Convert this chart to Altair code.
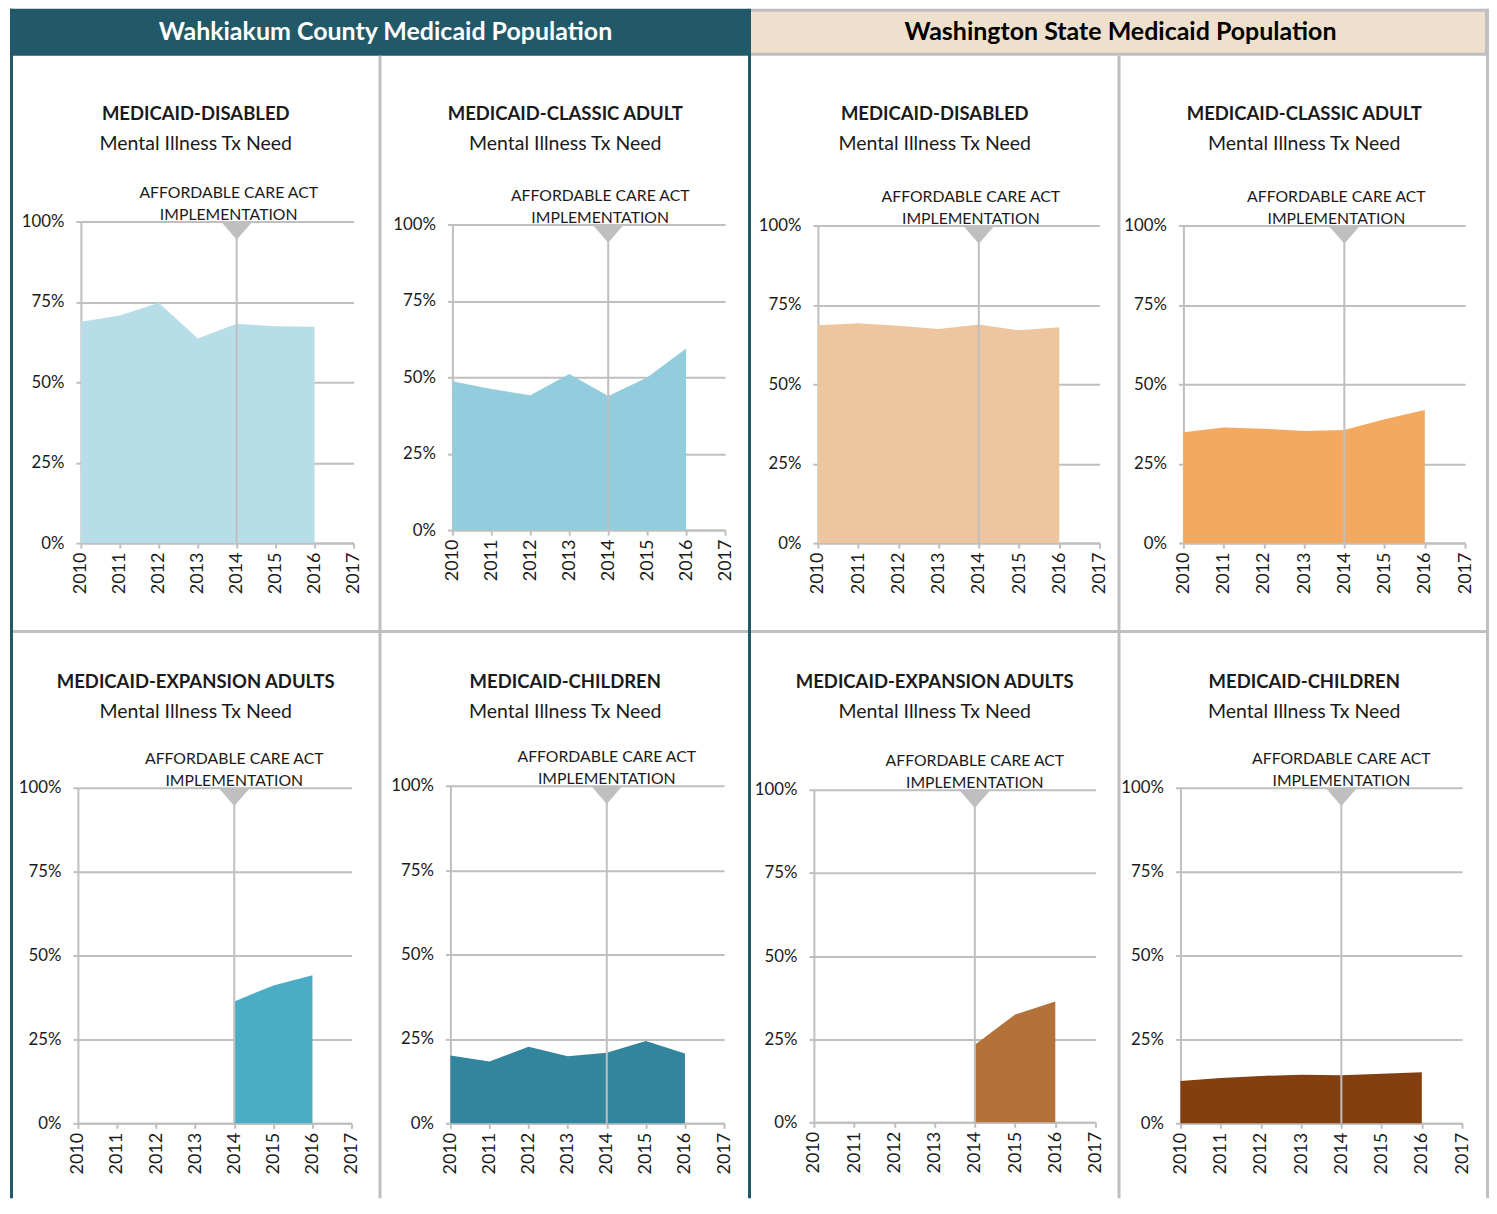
import altair as alt
import pandas as pd

# ---------------- data ----------------
years = [2010, 2011, 2012, 2013, 2014, 2015, 2016]
expansion_years = [2014, 2015, 2016]
axis_years = [2010, 2011, 2012, 2013, 2014, 2015, 2016, 2017]
pct_ticks = [0, 0.25, 0.5, 0.75, 1.0]
aca_year = 2014

wk_disabled = [0.688, 0.708, 0.747, 0.636, 0.682, 0.674, 0.673]
wk_classic = [0.487, 0.462, 0.441, 0.511, 0.439, 0.499, 0.594]
wa_disabled = [0.686, 0.692, 0.684, 0.674, 0.688, 0.670, 0.680]
wa_classic = [0.349, 0.364, 0.360, 0.353, 0.356, 0.390, 0.419]
wk_expansion = [0.363, 0.411, 0.441]
wk_children = [0.201, 0.183, 0.227, 0.199, 0.209, 0.244, 0.207]
wa_expansion = [0.233, 0.324, 0.363]
wa_children = [0.126, 0.135, 0.141, 0.145, 0.143, 0.148, 0.152]

panel_titles = [
    "MEDICAID-DISABLED", "MEDICAID-CLASSIC ADULT", "MEDICAID-DISABLED", "MEDICAID-CLASSIC ADULT",
    "MEDICAID-EXPANSION ADULTS", "MEDICAID-CHILDREN", "MEDICAID-EXPANSION ADULTS", "MEDICAID-CHILDREN",
]
subtitle = "Mental Illness Tx Need"
aca_label = ["AFFORDABLE CARE ACT", "IMPLEMENTATION"]
header_county = "Wahkiakum County  Medicaid Population"
header_state = "Washington State Medicaid Population"

# ---------------- style ----------------
FONT = "Lato"
GRID = "#bfbfbf"
TEAL = "#215968"
BEIGE = "#eee0cd"
TXT = "#1a1a1a"
colors = ["#b7dde8", "#93cddd", "#edc6a0", "#f4a960",
          "#4bacc6", "#31859c", "#b3723a", "#843f11"]

ONE = pd.DataFrame({"k": [0]})
CELL_W = 370
TOP_H = 623
BOT_H = 568


def rect(x0, x1, y0, y1, color):
    return alt.Chart(ONE).mark_rect(color=color, opacity=1, strokeWidth=0).encode(
        x=alt.value(x0), x2=alt.value(x1), y=alt.value(y0), y2=alt.value(y1))


def label(text, x, y, size, weight="normal", color=TXT, align="center"):
    return alt.Chart(ONE).mark_text(
        text=text, font=FONT, fontSize=size, fontWeight=weight, color=color,
        align=align, baseline="middle").encode(x=alt.value(x), y=alt.value(y))


def panel(idx, yrs, vals, cell_h, xr, yr, title_y, ann_dx, under=(), over=()):
    data = pd.DataFrame({"year": yrs, "share": vals})
    xs = alt.Scale(domain=[2010, 2017], range=xr, nice=False, zero=False)
    ys = alt.Scale(domain=[0, 1], range=yr, nice=False)
    xaxis = alt.Axis(values=axis_years, format="d", labelAngle=270, grid=False,
                     offset=yr[0] - cell_h, domainColor=GRID, domainWidth=2,
                     tickColor=GRID, tickWidth=2, tickSize=5, labelPadding=4,
                     labelFont=FONT, labelFontSize=18, labelColor=TXT,
                     labelFlush=False, labelOverlap=False, title=None)
    yaxis = alt.Axis(values=pct_ticks, format=".0%", grid=True, gridColor=GRID,
                     gridWidth=2, offset=-xr[0], domainColor=GRID, domainWidth=2,
                     tickColor=GRID, tickWidth=2, tickSize=5, labelPadding=12,
                     labelFont=FONT, labelFontSize=16.8, labelColor=TXT,
                     labelFlush=False, labelOverlap=False, title=None)
    area = alt.Chart(data).mark_area(color=colors[idx], opacity=1, interpolate="linear").encode(
        x=alt.X("year:Q", scale=xs, axis=xaxis, title=None),
        y=alt.Y("share:Q", scale=ys, axis=yaxis, title=None))
    aca = pd.DataFrame({"year": [aca_year]})
    rule = alt.Chart(aca).mark_rule(color=GRID, strokeWidth=2).encode(
        x=alt.X("year:Q", title=None), y=alt.datum(0), y2=alt.datum(1))
    tri = alt.Chart(aca).mark_point(shape="M-1,0L1,0L0,1.15Z", filled=True, size=1000,
                                    color=GRID, opacity=1, strokeWidth=0).encode(
        x=alt.X("year:Q", title=None), y=alt.datum(1))
    note = alt.Chart(aca).mark_text(text=aca_label, font=FONT, fontSize=15.8, color=TXT,
                                    align="center", baseline="middle", lineHeight=22,
                                    dx=ann_dx, dy=-29).encode(
        x=alt.X("year:Q", title=None), y=alt.datum(1))
    t1 = label(panel_titles[idx], 186, title_y, 18.5, weight="bold")
    t2 = label(subtitle, 186, title_y + 30, 19.5)
    return alt.layer(*under, area, rule, note, tri, t1, t2, *over).properties(
        width=CELL_W, height=cell_h)


hline = lambda: rect(0, CELL_W, TOP_H - 1, TOP_H + 2, GRID)

p1 = panel(0, years, wk_disabled, TOP_H, [71, 344], [535, 213], 105, -8,
           under=[rect(0, 740, 0, 47, TEAL), hline(), rect(0, 3, 0, TOP_H + 2, TEAL),
                  label(header_county, 376, 23, 25, weight="bold", color="white")])
p2 = panel(1, years, wk_classic, TOP_H, [73, 346], [522, 216], 105, -8,
           under=[hline(), rect(-1, 2, 47, TOP_H + 2, GRID)])
p3 = panel(2, years, wa_disabled, TOP_H, [69, 351], [535, 217], 105, -8,
           under=[rect(0, 740, 0, 47, GRID), rect(2, 737, 3, 44, BEIGE), hline(),
                  rect(-1, 2, 0, TOP_H + 2, TEAL),
                  label(header_state, 372, 23, 25, weight="bold", color="black")])
p4 = panel(3, years, wa_classic, TOP_H, [65, 347], [535, 217], 105, -8,
           under=[hline(), rect(-1, 2, 47, TOP_H + 2, GRID), rect(368, 371, 0, TOP_H + 2, GRID)])
p5 = panel(4, expansion_years, wk_expansion, BOT_H, [68, 342], [493, 157], 51, 0,
           under=[rect(0, 3, 0, BOT_H, TEAL)])
p6 = panel(5, years, wk_children, BOT_H, [71, 345], [493, 155], 51, 0,
           under=[rect(-1, 2, 0, BOT_H, GRID)])
p7 = panel(6, expansion_years, wa_expansion, BOT_H, [65, 347], [492, 159], 51, 0,
           under=[rect(-1, 2, 0, BOT_H, TEAL)])
p8 = panel(7, years, wa_children, BOT_H, [62, 344], [493, 157], 51, 0,
           under=[rect(-1, 2, 0, BOT_H, GRID), rect(368, 371, 0, BOT_H, GRID)])

chart = alt.concat(p1, p2, p3, p4, p5, p6, p7, p8, columns=4, spacing=0,
                   bounds="flush", align="each").properties(
    padding={"left": 2, "top": 0, "right": 0, "bottom": 0}
).configure_view(stroke=None)

chart.save("out.html", embed_options={"renderer": "svg", "actions": False})
